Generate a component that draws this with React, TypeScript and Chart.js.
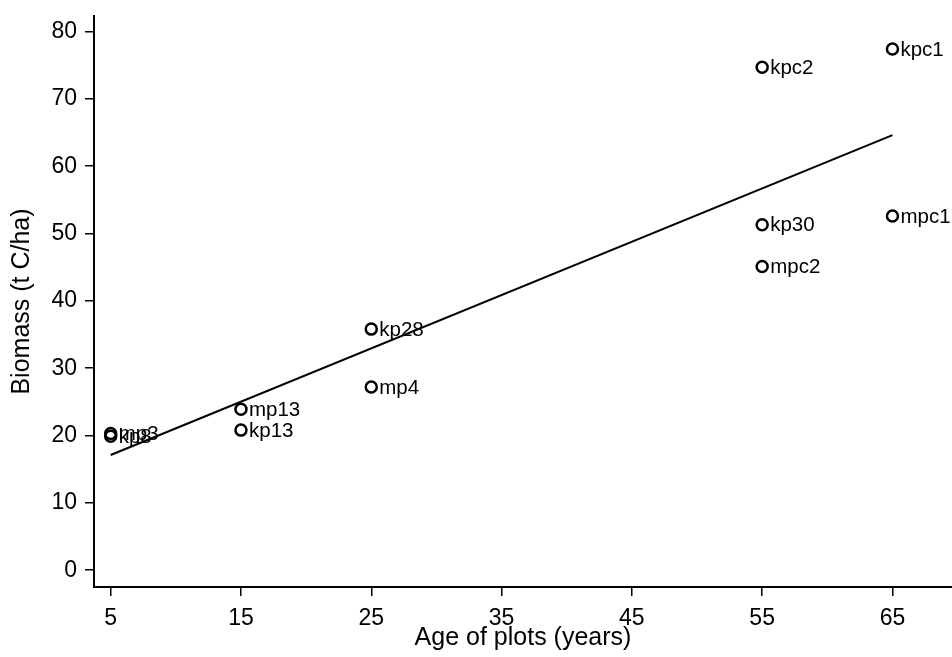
import React, { useEffect, useRef } from "react";
import { Chart, registerables } from "chart.js";

Chart.register(...registerables);

const plotLabels = ["mp3", "kp8", "mp13", "kp13", "kp28", "mp4", "kpc2", "kp30", "mpc2", "kpc1", "mpc1"];
const ageYears = [5, 5, 15, 15, 25, 25, 55, 55, 55, 65, 65];
const biomass = [20.3, 19.9, 23.9, 20.8, 35.8, 27.2, 74.7, 51.3, 45.1, 77.4, 52.6];
const fitX = [5, 65];
const fitY = [17.1, 64.6];
const xTicks = [5, 15, 25, 35, 45, 55, 65];
const yTicks = [0, 10, 20, 30, 40, 50, 60, 70, 80];

const FONT = "Arial, 'Liberation Sans', Helvetica, sans-serif";

const labelPlugin = {
  id: "pointLabels",
  afterDatasetsDraw(chart: any) {
    const meta = chart.getDatasetMeta(0);
    const ctx = chart.ctx;
    ctx.save();
    ctx.fillStyle = "#000";
    ctx.font = `20.5px ${FONT}`;
    ctx.textAlign = "left";
    ctx.textBaseline = "middle";
    meta.data.forEach((pt: any, i: number) => {
      ctx.fillText(plotLabels[i], pt.x + 8, pt.y + 1);
    });
    ctx.restore();
  },
};

export default function App() {
  const ref = useRef<HTMLCanvasElement>(null);
  useEffect(() => {
    const chart = new Chart(ref.current!, {
      type: "scatter",
      data: {
        datasets: [
          {
            data: ageYears.map((x, i) => ({ x, y: biomass[i] })),
            pointStyle: "circle",
            pointRadius: 5.5,
            pointBorderWidth: 2.5,
            pointBorderColor: "#000",
            pointBackgroundColor: "rgba(255,255,255,0)",
            showLine: false,
            clip: false,
          } as any,
          {
            type: "line",
            data: fitX.map((x, i) => ({ x, y: fitY[i] })),
            borderColor: "#000",
            borderWidth: 2,
            pointRadius: 0,
            fill: false,
          } as any,
        ],
      },
      options: {
        animation: false,
        responsive: false,
        devicePixelRatio: 1,
        layout: { autoPadding: false, padding: { top: 16, left: 0, right: 0, bottom: 0 } },
        plugins: { legend: { display: false }, tooltip: { enabled: false } },
        scales: {
          x: {
            type: "linear",
            min: 3.72,
            max: 69.57,
            afterBuildTicks: (s: any) => {
              s.ticks = xTicks.map((v) => ({ value: v }));
            },
            afterFit: (s: any) => {
              s.height = 70;
              s.paddingLeft = 0;
              s.paddingRight = 0;
            },
            grid: { display: true, drawOnChartArea: false, drawTicks: true, tickLength: 9, color: "#000", lineWidth: 1.5 },
            border: { display: true, color: "#000", width: 2 },
            ticks: { color: "#000", font: { size: 23, family: FONT }, padding: 9, maxRotation: 0, autoSkip: false },
            title: {
              display: true,
              text: "Age of plots (years)",
              color: "#000",
              font: { size: 25, family: FONT, lineHeight: 1.2 },
              padding: { top: 0, bottom: 4 },
            },
          },
          y: {
            type: "linear",
            min: -2.5,
            max: 82.3,
            afterBuildTicks: (s: any) => {
              s.ticks = yTicks.map((v) => ({ value: v }));
            },
            afterFit: (s: any) => {
              s.width = 94;
              s.paddingTop = 0;
              s.paddingBottom = 0;
            },
            grid: { display: true, drawOnChartArea: false, drawTicks: true, tickLength: 9, color: "#000", lineWidth: 1.5 },
            border: { display: true, color: "#000", width: 2 },
            ticks: { color: "#000", font: { size: 23, family: FONT }, padding: 8, autoSkip: false },
            title: {
              display: true,
              text: "Biomass (t C/ha)",
              color: "#000",
              font: { size: 25, family: FONT, lineHeight: 1.2 },
              padding: { top: 7, bottom: 0 },
            },
          },
        },
      },
      plugins: [labelPlugin],
    });
    return () => chart.destroy();
  }, []);
  return (
    <div style={{ position: "absolute", left: 0, top: 0, width: 952, height: 657, background: "#fff" }}>
      <canvas ref={ref} width={952} height={657} style={{ display: "block", width: 952, height: 657 }} />
    </div>
  );
}
